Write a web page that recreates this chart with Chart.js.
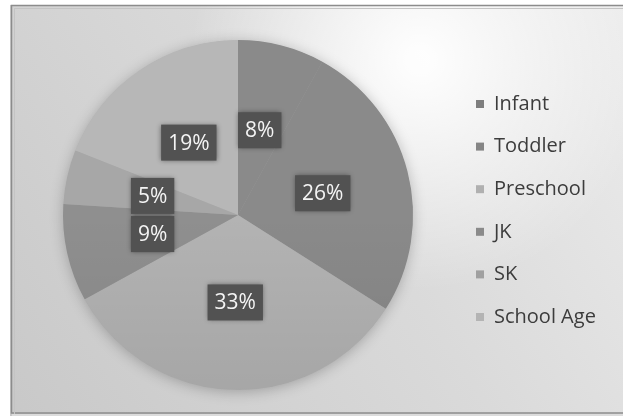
<!DOCTYPE html>
<html>
<head>
<meta charset="utf-8">
<script src="https://cdn.jsdelivr.net/npm/chart.js@4"></script>
<style>
  html, body { margin: 0; padding: 0; background: #ffffff; }
  #wrap { position: relative; width: 623px; height: 416px; }
</style>
</head>
<body>
<div id="wrap"><canvas id="c" width="623" height="416"></canvas></div>
<script>
// Enrolment mix by age group (percent of total)
const categories = ['Infant', 'Toddler', 'Preschool', 'JK', 'SK', 'School Age'];
const shares = [8, 26, 33, 9, 5, 19];
const sliceColors = ['#8a8a8a', '#8a8a8a', '#b3b3b3', '#8f8f8f', '#a7a7a7', '#b7b7b7'];
const legendColors = ['#7e7e7e', '#858585', '#b0b0b0', '#8a8a8a', '#a0a0a0', '#b4b4b4'];

const FONT = '"Open Sans", "DejaVu Sans", sans-serif';

// Paper-like backdrop with a soft light spot and a thin frame
const backdrop = {
  id: 'backdrop',
  beforeDraw(chart) {
    const ctx = chart.ctx;
    const w = chart.width, h = chart.height;
    ctx.save();
    const g = ctx.createLinearGradient(w, 0, 0, h);
    g.addColorStop(0, '#ececec');
    g.addColorStop(0.45, '#dadada');
    g.addColorStop(1, '#c8c8c8');
    ctx.fillStyle = g;
    ctx.fillRect(0, 0, w, h);
    const r = ctx.createRadialGradient(420, 60, 10, 420, 60, 230);
    r.addColorStop(0, 'rgba(255,255,255,0.95)');
    r.addColorStop(1, 'rgba(255,255,255,0)');
    ctx.fillStyle = r;
    ctx.fillRect(0, 0, w, h);
    ctx.fillStyle = '#ffffff';
    ctx.fillRect(0, 0, w, 5);
    ctx.fillRect(0, 0, 10, h);
    ctx.strokeStyle = '#8c8c8c';
    ctx.lineWidth = 1.5;
    ctx.strokeRect(11.5, 5.5, 615, 407.5);
    ctx.strokeStyle = '#c4c4c4';
    ctx.lineWidth = 1;
    ctx.strokeRect(14.5, 8.5, 615, 415);
    ctx.fillStyle = '#dcdcdc';
    ctx.fillRect(12, 414, w, 2);
    ctx.restore();
  }
};

// Soft shadow under the whole pie
const pieShadow = {
  id: 'pieShadow',
  beforeDatasetsDraw(chart) {
    const arc = chart.getDatasetMeta(0).data[0];
    if (!arc) return;
    const ctx = chart.ctx;
    ctx.save();
    ctx.shadowColor = 'rgba(0,0,0,0.25)';
    ctx.shadowBlur = 14;
    ctx.shadowOffsetX = 0;
    ctx.shadowOffsetY = 2;
    ctx.fillStyle = '#a0a0a0';
    ctx.beginPath();
    ctx.arc(arc.x, arc.y, arc.outerRadius - 0.5, 0, Math.PI * 2);
    ctx.fill();
    ctx.restore();
  },
  afterDatasetsDraw(chart) {
    // gentle darkening toward the lower rim
    const arc = chart.getDatasetMeta(0).data[0];
    if (!arc) return;
    const ctx = chart.ctx;
    ctx.save();
    const g = ctx.createLinearGradient(0, arc.y, 0, arc.y + arc.outerRadius);
    g.addColorStop(0, 'rgba(0,0,0,0)');
    g.addColorStop(1, 'rgba(0,0,0,0.07)');
    ctx.fillStyle = g;
    ctx.beginPath();
    ctx.arc(arc.x, arc.y, arc.outerRadius, 0, Math.PI * 2);
    ctx.fill();
    ctx.restore();
  }
};

// Percentage labels in dark boxes at each slice centre
const sliceLabels = {
  id: 'sliceLabels',
  afterDatasetsDraw(chart) {
    const ctx = chart.ctx;
    const meta = chart.getDatasetMeta(0);
    const values = chart.data.datasets[0].data;
    ctx.save();
    ctx.font = '21px ' + FONT;
    ctx.textAlign = 'center';
    ctx.textBaseline = 'middle';
    meta.data.forEach((arc, i) => {
      const p = arc.tooltipPosition();
      const text = values[i] + '%';
      const tw = ctx.measureText(text).width;
      const bw = tw + 14, bh = 36;
      ctx.save();
      ctx.shadowColor = 'rgba(0,0,0,0.45)';
      ctx.shadowBlur = 5;
      ctx.fillStyle = '#525252';
      ctx.fillRect(p.x - bw / 2, p.y - bh / 2, bw, bh);
      ctx.restore();
      ctx.fillStyle = '#f4f4f4';
      ctx.fillText(text, p.x, p.y + 1);
    });
    ctx.restore();
  }
};

// Legend column on the right
const sideLegend = {
  id: 'sideLegend',
  afterDraw(chart) {
    const ctx = chart.ctx;
    const labels = chart.data.labels;
    ctx.save();
    ctx.font = '20px ' + FONT;
    ctx.textBaseline = 'middle';
    ctx.textAlign = 'left';
    labels.forEach((lab, i) => {
      const y = 104 + i * 42.6;
      ctx.fillStyle = legendColors[i];
      ctx.fillRect(476, y - 4, 8, 8);
      ctx.fillStyle = '#3c3c3c';
      ctx.fillText(lab, 494, y);
    });
    ctx.restore();
  }
};

new Chart(document.getElementById('c'), {
  type: 'pie',
  data: {
    labels: categories,
    datasets: [{
      data: shares,
      backgroundColor: sliceColors,
      borderWidth: 0
    }]
  },
  options: {
    responsive: false,
    animation: false,
    layout: { padding: { left: 63, right: 210, top: 40, bottom: 26 } },
    plugins: {
      legend: { display: false },
      tooltip: { enabled: false }
    }
  },
  plugins: [backdrop, pieShadow, sliceLabels, sideLegend]
});
</script>
</body>
</html>
